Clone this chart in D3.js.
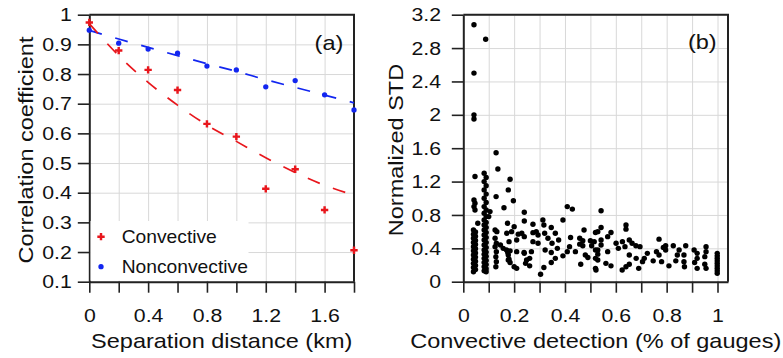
<!DOCTYPE html>
<html>
<head>
<meta charset="utf-8">
<script src="https://cdn.jsdelivr.net/npm/d3@7"></script>
<style>
  body { margin: 0; background: #fff; }
  text { font-family: Arial, "Liberation Sans", sans-serif; fill: #111; }
</style>
</head>
<body>
<script>
// ---- panel (a): correlation vs separation distance
var distance = [0, 0.2, 0.4, 0.6, 0.8, 1.0, 1.2, 1.4, 1.6, 1.8];
var corrConvective = [0.974, 0.879, 0.814, 0.746, 0.632, 0.589, 0.413, 0.479, 0.342, 0.206];
var corrNonconvective = [0.948, 0.904, 0.884, 0.870, 0.827, 0.814, 0.757, 0.778, 0.730, 0.679];
// dashed fitted curves
var fitConvective = [0.970, 0.862, 0.772, 0.695, 0.628, 0.573, 0.518, 0.468, 0.425, 0.392];
var fitNonconvective = [0.947, 0.918, 0.890, 0.862, 0.835, 0.809, 0.781, 0.755, 0.729, 0.703];
var aXTicks = [0, 0.2, 0.4, 0.6, 0.8, 1.0, 1.2, 1.4, 1.6, 1.8];
var aXLabels = ["0", "", "0.4", "", "0.8", "", "1.2", "", "1.6", ""];
var aYTicks = [0.1, 0.2, 0.3, 0.4, 0.5, 0.6, 0.7, 0.8, 0.9, 1];
var aYLabels = ["0.1", "0.2", "0.3", "0.4", "0.5", "0.6", "0.7", "0.8", "0.9", "1"];

// ---- panel (b): normalized STD vs convective detection
var detection = [
  0.042, 0.088, 0.042, 0.042, 0.042, 0.129, 0.136, 0.046, 0.184, 0.177, 0.129, 0.197, 0.160, 0.240, 0.240,
  0.042, 0.046, 0.042, 0.046, 0.057, 0.105, 0.100,
  // gauge column near 0.04
  0.040, 0.048, 0.040, 0.048, 0.040, 0.048, 0.040, 0.048, 0.040, 0.048, 0.040,
  0.048, 0.040, 0.048, 0.040, 0.048, 0.040, 0.048, 0.040, 0.048, 0.040,
  // gauge column near 0.085
  0.082, 0.090, 0.082, 0.090, 0.082, 0.090, 0.082, 0.090, 0.082, 0.090, 0.082, 0.090,
  0.082, 0.090, 0.082, 0.090, 0.082, 0.090, 0.082, 0.090, 0.082, 0.090, 0.082, 0.090,
  0.082, 0.090, 0.082, 0.090, 0.082, 0.090, 0.082, 0.090, 0.082, 0.090, 0.082, 0.090,
  // 0.12 - 0.26
  0.125, 0.132, 0.125, 0.130, 0.125, 0.130, 0.128, 0.130, 0.128,
  0.174, 0.190, 0.200, 0.216, 0.210, 0.146, 0.157, 0.170, 0.177, 0.177, 0.200, 0.240, 0.245,
  0.171, 0.180, 0.184, 0.175, 0.180, 0.184, 0.210, 0.210, 0.239, 0.249, 0.230, 0.240,
  // 0.26 - 0.52
  0.274, 0.274, 0.287, 0.294, 0.274, 0.294, 0.268, 0.261, 0.261, 0.313, 0.317, 0.320, 0.333, 0.322, 0.317,
  0.304, 0.346, 0.349, 0.346, 0.346, 0.362, 0.370, 0.375, 0.362, 0.392, 0.392, 0.409, 0.429, 0.409, 0.422,
  0.418, 0.441, 0.458, 0.458, 0.475, 0.462, 0.470, 0.470, 0.500, 0.505, 0.480, 0.490, 0.515, 0.520, 0.520,
  0.520, 0.520,
  // 0.52 - 0.79
  0.542, 0.542, 0.529, 0.568, 0.581, 0.542, 0.542, 0.529, 0.529, 0.529, 0.568, 0.561, 0.581, 0.522, 0.601,
  0.610, 0.640, 0.640, 0.626, 0.636, 0.653, 0.664, 0.679, 0.695, 0.653, 0.625, 0.640, 0.653, 0.680, 0.690,
  0.705, 0.712, 0.724, 0.747, 0.770, 0.760, 0.770, 0.780, 0.787,
  // 0.79 - 1
  0.796, 0.796, 0.809, 0.826, 0.849, 0.842, 0.836, 0.875, 0.868, 0.868, 0.870, 0.908, 0.920, 0.920, 0.910,
  0.920, 0.955, 0.955, 0.950, 0.950, 0.955,
  0.999, 0.999, 0.999, 0.999, 0.999, 0.999, 0.999, 0.999, 0.999
];
var normStd = [
  3.08, 2.905, 2.50, 2.00, 1.95, 1.546, 1.35, 1.26, 1.227, 1.10, 1.02, 0.97, 0.887, 0.832, 0.727,
  0.98, 0.94, 0.90, 0.86, 0.70, 0.84, 0.78,
  0.12, 0.145, 0.17, 0.195, 0.22, 0.245, 0.27, 0.295, 0.32, 0.345, 0.37,
  0.395, 0.42, 0.445, 0.47, 0.495, 0.52, 0.545, 0.57, 0.595, 0.62,
  1.30, 1.25, 1.20, 1.15, 1.10, 1.05, 1.00, 0.95, 0.90, 0.86, 0.82, 0.78,
  0.74, 0.71, 0.68, 0.65, 0.62, 0.59, 0.56, 0.53, 0.50, 0.47, 0.44, 0.41,
  0.38, 0.355, 0.33, 0.305, 0.28, 0.255, 0.23, 0.205, 0.18, 0.155, 0.13, 0.12,
  0.62, 0.60, 0.52, 0.46, 0.42, 0.36, 0.30, 0.24, 0.18,
  0.70, 0.60, 0.66, 0.57, 0.50, 0.44, 0.40, 0.38, 0.32, 0.26, 0.18, 0.34, 0.22,
  0.58, 0.48, 0.37, 0.35, 0.27, 0.23, 0.36, 0.16, 0.35, 0.26, 0.58, 0.54,
  0.688, 0.588, 0.60, 0.56, 0.48, 0.46, 0.36, 0.28, 0.19, 0.74, 0.68, 0.58, 0.52, 0.38, 0.17,
  0.09, 0.65, 0.46, 0.35, 0.23, 0.58, 0.40, 0.50, 0.28, 0.74, 0.31, 0.90, 0.87, 0.36, 0.53,
  0.42, 0.36, 0.52, 0.45, 0.62, 0.21, 0.49, 0.43, 0.49, 0.43, 0.32, 0.29, 0.48, 0.59, 0.38,
  0.28, 0.16,
  0.85, 0.65, 0.60, 0.54, 0.59, 0.50, 0.44, 0.38, 0.33, 0.26, 0.36, 0.22, 0.19, 0.14, 0.46,
  0.40, 0.68, 0.63, 0.48, 0.42, 0.50, 0.46, 0.43, 0.42, 0.32, 0.14, 0.18, 0.21, 0.28, 0.16,
  0.24, 0.28, 0.34, 0.25, 0.51, 0.36, 0.32, 0.24, 0.41,
  0.43, 0.38, 0.19, 0.43, 0.38, 0.32, 0.25, 0.43, 0.32, 0.24, 0.18, 0.38, 0.34, 0.28, 0.23,
  0.16, 0.42, 0.36, 0.30, 0.21, 0.16,
  0.34, 0.31, 0.28, 0.25, 0.22, 0.19, 0.16, 0.13, 0.10
];
var bXTicks = [0, 0.1, 0.2, 0.3, 0.4, 0.5, 0.6, 0.7, 0.8, 0.9, 1];
var bXLabels = ["0", "", "0.2", "", "0.4", "", "0.6", "", "0.8", "", "1"];
var bYTicks = [0, 0.4, 0.8, 1.2, 1.6, 2, 2.4, 2.8, 3.2];
var bYLabels = ["0", "0.4", "0.8", "1.2", "1.6", "2", "2.4", "2.8", "3.2"];

var W = 783, H = 358;
var plotTop = 14.7, plotBottom = 281.7;
var stretch = 1.12;
var red = "#e8161c", blue = "#1226f0";

var svg = d3.select("body").append("svg")
  .attr("width", W)
  .attr("height", H);

function labelFmt(ticks, labels) {
  return function(d) { return labels[ticks.indexOf(d)]; };
}

// draws grid, axes, box for one panel
function frame(x, y, xt, xl, yt, yl, yPad) {
  var g = svg.append("g");
  var x0 = x.range()[0], x1 = x.range()[1];

  g.append("g")
    .attr("transform", "translate(0," + plotBottom + ")")
    .call(d3.axisBottom(x).tickValues(xt).tickSize(-(plotBottom - plotTop)).tickFormat(""))
    .call(s => s.select(".domain").remove())
    .selectAll("line").attr("stroke", "#d8d8d8").attr("stroke-width", 1);
  g.append("g")
    .attr("transform", "translate(" + x0 + ",0)")
    .call(d3.axisLeft(y).tickValues(yt).tickSize(-(x1 - x0)).tickFormat(""))
    .call(s => s.select(".domain").remove())
    .selectAll("line").attr("stroke", "#d8d8d8").attr("stroke-width", 1);

  // box top and right
  g.append("path")
    .attr("d", "M" + x0 + "," + plotTop + "H" + x1 + "V" + plotBottom)
    .attr("fill", "none").attr("stroke", "#222").attr("stroke-width", 2);

  var ax = g.append("g")
    .attr("transform", "translate(0," + plotBottom + ")")
    .call(d3.axisBottom(x).tickValues(xt).tickSize(11).tickSizeOuter(0).tickPadding(15.5)
      .tickFormat(labelFmt(xt, xl)));
  ax.select(".domain").attr("stroke", "#222").attr("stroke-width", 2);
  ax.selectAll("line").attr("stroke", "#222").attr("stroke-width", 1.6);
  ax.selectAll("text").attr("font-size", 19).attr("fill", "#111")
    .attr("transform", "scale(" + stretch + ",1)");

  var ay = g.append("g")
    .attr("transform", "translate(" + x0 + ",0)")
    .call(d3.axisLeft(y).tickValues(yt).tickSize(11.5).tickSizeOuter(0)
      .tickFormat(labelFmt(yt, yl)));
  ay.select(".domain").attr("stroke", "#222").attr("stroke-width", 2);
  ay.selectAll("line").attr("stroke", "#222").attr("stroke-width", 1.6);
  ay.selectAll("text").attr("font-size", 19).attr("fill", "#111")
    .attr("x", -yPad / stretch)
    .attr("transform", "scale(" + stretch + ",1)");
  return g;
}

function label(txt, x, y, size, anchor, rot) {
  svg.append("text")
    .attr("transform", "translate(" + x + "," + y + ")" + (rot ? " rotate(-90)" : "") +
      " scale(" + stretch + ",1)")
    .attr("text-anchor", anchor)
    .attr("font-size", size)
    .text(txt);
}

// ---------- panel (a)
var xa = d3.scaleLinear().domain([0, 1.8]).range([89.3, 354]);
var ya = d3.scaleLinear().domain([0.1, 1]).range([plotBottom, plotTop]);
frame(xa, ya, aXTicks, aXLabels, aYTicks, aYLabels, 17.6);

var ga = svg.append("g");
var fitLine = d3.line()
  .x((d, i) => xa(distance[i]))
  .y(d => ya(d))
  .curve(d3.curveMonotoneX);

ga.append("path").attr("d", fitLine(fitNonconvective))
  .attr("fill", "none").attr("stroke", blue).attr("stroke-width", 1.7)
  .attr("stroke-dasharray", "13,14");
ga.append("path").attr("d", fitLine(fitConvective))
  .attr("fill", "none").attr("stroke", red).attr("stroke-width", 1.7)
  .attr("stroke-dasharray", "13,14");

var cross = d3.symbol(d3.symbolCross, 30);
var dot = d3.symbol(d3.symbolCircle, 22);

ga.selectAll(".conv").data(corrConvective).enter().append("path")
  .attr("transform", (d, i) => "translate(" + xa(distance[i]) + "," + ya(d) + ")")
  .attr("d", cross).attr("fill", red);
ga.selectAll(".nonconv").data(corrNonconvective).enter().append("path")
  .attr("transform", (d, i) => "translate(" + xa(distance[i]) + "," + ya(d) + ")")
  .attr("d", dot).attr("fill", blue);

// legend
ga.append("rect").attr("x", 90.5).attr("y", 221).attr("width", 158).attr("height", 59.7)
  .attr("fill", "#fff");
ga.append("path").attr("transform", "translate(101,236.7)").attr("d", cross).attr("fill", red);
ga.append("path").attr("transform", "translate(101,266.7)").attr("d", dot).attr("fill", blue);
svg.append("text").attr("transform", "translate(121.7,243.3) scale(1.1,1)")
  .attr("font-size", 17.5).text("Convective");
svg.append("text").attr("transform", "translate(121.7,272.7) scale(1.1,1)")
  .attr("font-size", 17.5).text("Nonconvective");

label("(a)", 343.3, 50, 21, "end");
label("Separation distance (km)", 221.7, 348.3, 21, "middle");
label("Correlation coefficient", 33, 150, 21, "middle", true);

// ---------- panel (b)
var xb = d3.scaleLinear().domain([0, 1.0413]).range([463.3, 728]);
var yb = d3.scaleLinear().domain([0, 3.2]).range([plotBottom, plotTop]);
frame(xb, yb, bXTicks, bXLabels, bYTicks, bYLabels, 22.3);

svg.append("g").selectAll("circle").data(normStd).enter().append("circle")
  .attr("cx", (d, i) => xb(detection[i]))
  .attr("cy", d => yb(d))
  .attr("r", 2.7)
  .attr("fill", "#000");

label("(b)", 716.7, 49.3, 21, "end");
label("Convective detection (% of gauges)", 595.7, 348.3, 21, "middle");
label("Normalized STD", 403, 150, 21, "middle", true);
</script>
</body>
</html>
